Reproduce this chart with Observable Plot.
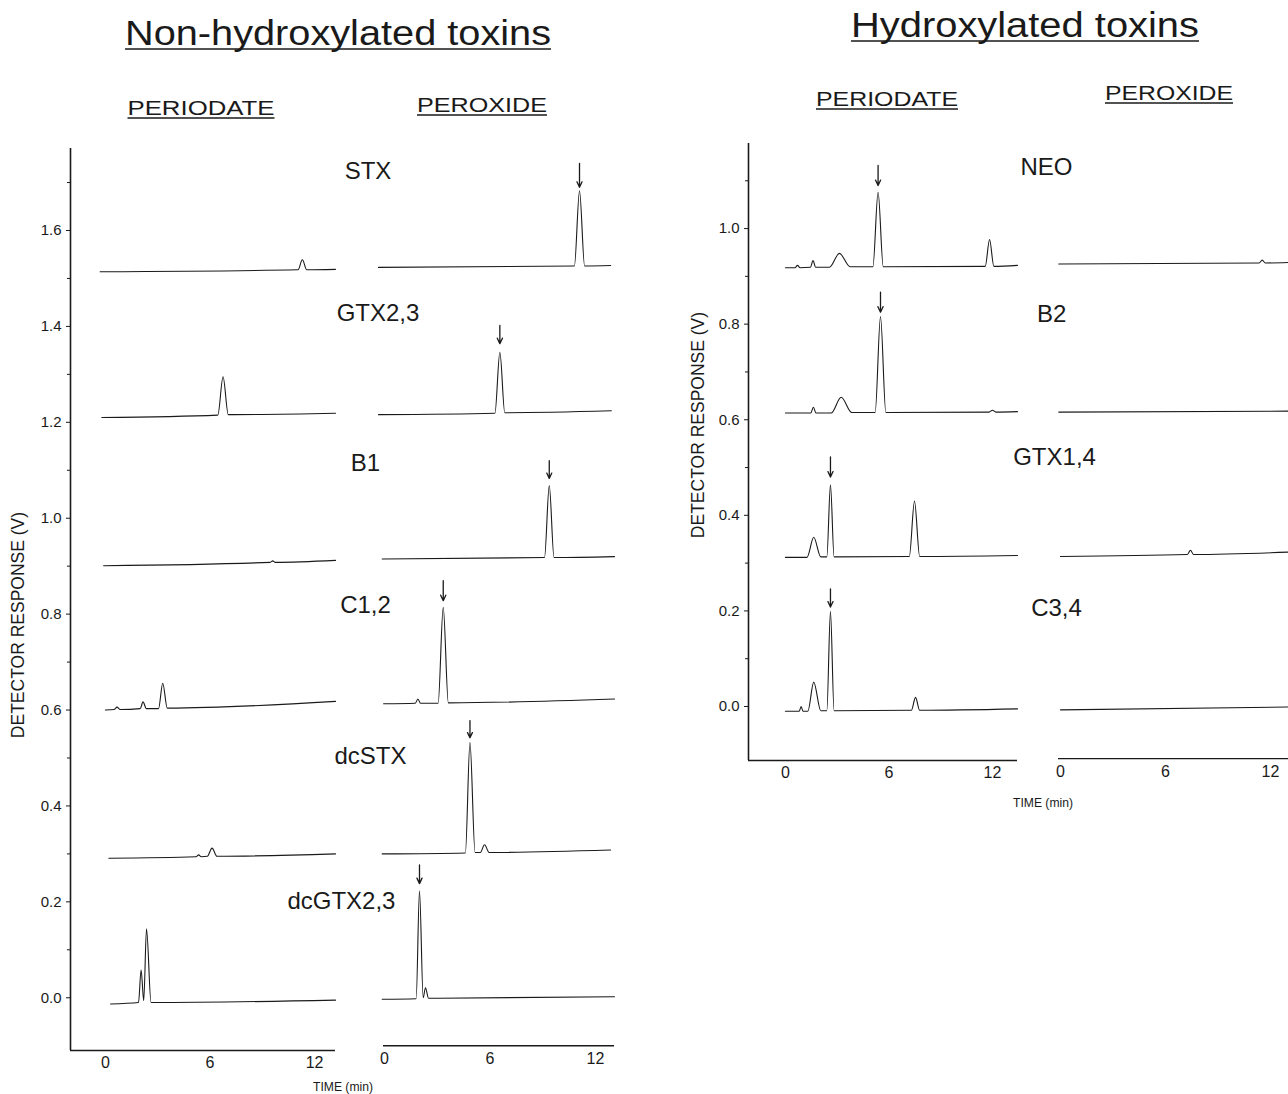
<!DOCTYPE html>
<html>
<head>
<meta charset="utf-8">
<script src="https://cdn.jsdelivr.net/npm/d3@7"></script>
<script src="https://cdn.jsdelivr.net/npm/@observablehq/plot@0.6"></script>
<style>
  html, body { margin: 0; padding: 0; background: #fff; }
  #fig { position: relative; width: 1288px; height: 1094px; overflow: hidden; background: #fff; }
</style>
</head>
<body>
<div id="fig"></div>
<script>
// ---------------- DATA ----------------
// time in min, detector response in V
const xTicks = [0, 6, 12];
const yTicksLeft = [0, 0.2, 0.4, 0.6, 0.8, 1.0, 1.2, 1.4, 1.6];
const yMinorLeft = [0.1, 0.3, 0.5, 0.7, 0.9, 1.1, 1.3, 1.5, 1.7];
const yTicksRight = [0, 0.2, 0.4, 0.6, 0.8, 1.0];
const yMinorRight = [0.1, 0.3, 0.5, 0.7, 0.9, 1.1];

// Non-hydroxylated toxins
const nonHydroxCompounds = ["STX", "GTX2,3", "B1", "C1,2", "dcSTX", "dcGTX2,3"];
const nonHydroxLabelT = [-0.94, -0.37, -1.08, -1.08, -0.80, -2.45];
const nonHydroxLabelV = [1.724, 1.428, 1.114, 0.818, 0.503, 0.202];

const stxPeriodate = [[-0.3,1.514],[11.05,1.518],[11.3,1.539],[11.55,1.518],[13.2,1.519]];
const stxPeroxide = [[-0.34,1.523],[10.8,1.526],[11.09,1.683],[11.38,1.526],[12.86,1.527]];
const gtx23Periodate = [[-0.2,1.210],[6.45,1.215],[6.75,1.295],[7.05,1.216],[13.2,1.219]];
const gtx23Peroxide = [[-0.34,1.216],[6.28,1.219],[6.56,1.346],[6.84,1.220],[12.9,1.224]];
const b1Periodate = [[-0.1,0.901],[9.45,0.908],[9.6,0.911],[9.75,0.908],[13.2,0.912]];
const b1Peroxide = [[-0.13,0.915],[9.1,0.918],[9.37,1.068],[9.64,0.918],[13.08,0.920]];
const c12Periodate = [[0,0.600],[0.5,0.601],[0.67,0.606],[0.85,0.601],[2.0,0.603],[2.16,0.617],[2.35,0.603],[3.05,0.603],[3.29,0.656],[3.55,0.604],[13.2,0.618]];
const c12Peroxide = [[-0.05,0.613],[1.75,0.614],[1.9,0.623],[2.05,0.614],[3.05,0.614],[3.34,0.814],[3.63,0.615],[13.08,0.623]];
const dcstxPeriodate = [[0.2,0.291],[5.2,0.294],[5.35,0.298],[5.5,0.294],[5.85,0.295],[6.12,0.312],[6.4,0.295],[13.2,0.300]];
const dcstxPeroxide = [[-0.13,0.300],[4.6,0.302],[4.86,0.532],[5.15,0.303],[5.45,0.303],[5.69,0.319],[5.95,0.303],[12.86,0.308]];
const dcgtx23Periodate = [[0.3,-0.013],[1.9,-0.010],[2.05,0.058],[2.2,-0.006],[2.36,0.144],[2.62,-0.010],[13.2,-0.005]];
const dcgtx23Peroxide = [[-0.13,-0.003],[1.8,-0.002],[1.99,0.223],[2.2,0.0],[2.33,0.021],[2.5,-0.001],[13.08,0.002]];

// arrows marking the product peak: [time, from, to]
const nonHydroxArrows = [[11.09,1.740,1.690],[6.56,1.402,1.364],[9.37,1.120,1.083],[3.34,0.870,0.828],[4.86,0.578,0.542],[1.99,0.277,0.238]];

// Hydroxylated toxins
const hydroxCompounds = ["NEO", "B2", "GTX1,4", "C3,4"];
const hydroxLabelT = [-0.8, -0.51, -0.34, -0.23];
const hydroxLabelV = [1.129, 0.821, 0.521, 0.206];

const neoPeriodate = [[0,0.918],[0.55,0.918],[0.7,0.923],[0.85,0.918],[1.45,0.919],[1.6,0.933],[1.75,0.919],[2.55,0.919],[3.13,0.948],[3.75,0.920],[5.07,0.920],[5.37,1.076],[5.67,0.920],[11.58,0.921],[11.83,0.977],[12.08,0.921],[13.45,0.923]];
const neoPeroxide = [[-0.1,0.926],[11.35,0.928],[11.53,0.934],[11.7,0.928],[13.03,0.929]];
const b2Periodate = [[0,0.614],[1.47,0.614],[1.62,0.626],[1.77,0.614],[2.65,0.614],[3.23,0.647],[3.85,0.615],[5.2,0.615],[5.51,0.816],[5.82,0.615],[11.8,0.616],[12.0,0.620],[12.2,0.616],[13.45,0.617]];
const b2Peroxide = [[-0.1,0.616],[13.03,0.618]];
const gtx14Periodate = [[0,0.312],[1.25,0.312],[1.64,0.354],[2.05,0.313],[2.4,0.313],[2.61,0.464],[2.82,0.313],[7.18,0.314],[7.48,0.430],[7.78,0.314],[13.45,0.316]];
const gtx14Peroxide = [[0,0.314],[7.25,0.318],[7.43,0.327],[7.6,0.318],[13.03,0.323]];
const c34Periodate = [[0,-0.010],[0.8,-0.010],[0.91,0.0],[1.02,-0.010],[1.3,-0.010],[1.64,0.051],[2.05,-0.009],[2.4,-0.009],[2.61,0.199],[2.82,-0.009],[7.3,-0.008],[7.54,0.019],[7.78,-0.008],[13.45,-0.005]];
const c34Peroxide = [[0,-0.007],[13.03,-0.001]];

const hydroxArrows = [[5.37,1.132,1.090],[5.51,0.867,0.825],[2.61,0.522,0.480],[2.61,0.246,0.208]];

// ---------------- DRAWING ----------------
const H = 1094;
const FONT = '"Liberation Sans", Arial, Helvetica, sans-serif';
const INK = "#1a1a1a";
const fig = document.getElementById("fig");

function traceMarks(traces) {
  return traces.map(tr => Plot.line(tr, {x: d => d[0], y: d => d[1], curve: "monotone-x", stroke: INK, strokeWidth: 1.1}));
}
function arrowMark(arr) {
  return Plot.arrow(arr, {x1: d => d[0], x2: d => d[0], y1: d => d[1], y2: d => d[2], stroke: INK, strokeWidth: 1.3, headLength: 7, headAngle: 50});
}
function labelMark(names, ts, vs) {
  const rows = names.map((n, i) => ({n, t: ts[i], v: vs[i]}));
  return Plot.text(rows, {x: "t", y: "v", text: "n", fontSize: 24, fill: INK, textAnchor: "middle"});
}
function yAxisMarks(ticks, minor) {
  return [
    Plot.axisY({ticks, tickFormat: d3.format(".1f"), tickSize: 4, tickPadding: 5, fontSize: 15, label: null, anchor: "left", stroke: INK, color: INK}),
    Plot.axisY({ticks: minor, tickFormat: () => "", tickSize: 3, label: null, anchor: "left", stroke: INK})
  ];
}
function xAxisMark(pad) {
  return Plot.axisX({ticks: xTicks, tickSize: 0, tickPadding: pad, fontSize: 16, label: null, anchor: "bottom", color: INK});
}
function addPlot(o) {
  const svg = Plot.plot({
    width: o.width, height: H,
    marginLeft: o.marginLeft, marginRight: o.marginRight, marginTop: o.marginTop, marginBottom: o.marginBottom,
    x: {domain: o.xDomain, axis: null},
    y: {domain: o.yDomain, axis: null},
    style: {background: "transparent", fontFamily: FONT, color: INK, overflow: "visible"},
    marks: o.marks
  });
  svg.style.position = "absolute";
  svg.style.left = o.left + "px";
  svg.style.top = "0px";
  fig.appendChild(svg);
}

const yLeft = [-0.11, 1.771];
const yRight = [-0.113, 1.178];

// Left panel, periodate
addPlot({
  left: 0, width: 345, marginLeft: 70, marginRight: 10, marginTop: 148, marginBottom: 44,
  xDomain: [-2, 13.2], yDomain: yLeft,
  marks: [
    Plot.ruleX([-2], {stroke: INK, strokeWidth: 1.6}),
    Plot.ruleY([yLeft[0]], {stroke: INK, strokeWidth: 1.4}),
    ...yAxisMarks(yTicksLeft, yMinorLeft),
    xAxisMark(6),
    ...traceMarks([stxPeriodate, gtx23Periodate, b1Periodate, c12Periodate, dcstxPeriodate, dcgtx23Periodate])
  ]
});
// Left panel, peroxide
addPlot({
  left: 270, width: 354, marginLeft: 113, marginRight: 10, marginTop: 148, marginBottom: 44,
  xDomain: [-0.057, 13.08], yDomain: yLeft,
  marks: [
    Plot.ruleY([-0.10], {stroke: INK, strokeWidth: 1.4}),
    xAxisMark(2),
    ...traceMarks([stxPeroxide, gtx23Peroxide, b1Peroxide, c12Peroxide, dcstxPeroxide, dcgtx23Peroxide]),
    arrowMark(nonHydroxArrows),
    labelMark(nonHydroxCompounds, nonHydroxLabelT, nonHydroxLabelV)
  ]
});
// Right panel, periodate
addPlot({
  left: 680, width: 345, marginLeft: 68, marginRight: 8, marginTop: 143, marginBottom: 334,
  xDomain: [-2.14, 13.45], yDomain: yRight,
  marks: [
    Plot.ruleX([-2.14], {stroke: INK, strokeWidth: 1.6}),
    Plot.ruleY([yRight[0]], {stroke: INK, strokeWidth: 1.4}),
    ...yAxisMarks(yTicksRight, yMinorRight),
    xAxisMark(6),
    ...traceMarks([neoPeriodate, b2Periodate, gtx14Periodate, c34Periodate]),
    arrowMark(hydroxArrows)
  ]
});
// Right panel, peroxide
addPlot({
  left: 960, width: 328, marginLeft: 98, marginRight: 0, marginTop: 143, marginBottom: 334,
  xDomain: [-0.114, 13.03], yDomain: yRight,
  marks: [
    Plot.ruleY([-0.109], {stroke: INK, strokeWidth: 1.4}),
    xAxisMark(5),
    ...traceMarks([neoPeroxide, b2Peroxide, gtx14Peroxide, c34Peroxide]),
    labelMark(hydroxCompounds, hydroxLabelT, hydroxLabelV)
  ]
});

// ---------------- TITLES (overlay) ----------------
const over = d3.select(fig).append("svg")
  .attr("width", 1288).attr("height", H)
  .style("position", "absolute").style("left", "0px").style("top", "0px")
  .style("pointer-events", "none")
  .style("font-family", FONT).style("fill", INK);

function title(txt, cx, baseline, size, len, underlineGap) {
  const t = over.append("text").attr("x", cx).attr("y", baseline)
    .attr("text-anchor", "middle").attr("font-size", size)
    .attr("textLength", len).attr("lengthAdjust", "spacingAndGlyphs").text(txt);
  if (underlineGap != null) {
    const b = t.node().getBBox();
    over.append("line").attr("x1", b.x).attr("x2", b.x + b.width)
      .attr("y1", baseline + underlineGap).attr("y2", baseline + underlineGap)
      .attr("stroke", INK).attr("stroke-width", 1.5);
  }
  return t;
}
title("Non-hydroxylated  toxins", 338, 45, 35, 426, 4);
title("Hydroxylated  toxins", 1025, 37, 35, 348, 4);
title("PERIODATE", 201, 115, 21, 147, 3);
title("PEROXIDE", 482, 112, 21, 130, 3);
title("PERIODATE", 887, 106, 21, 142, 3);
title("PEROXIDE", 1169, 100, 21, 128, 3);
title("TIME (min)", 343, 1091, 13, 60, null);
title("TIME (min)", 1043, 807, 13, 60, null);

function yTitle(cx, cy) {
  over.append("text").attr("transform", `translate(${cx},${cy}) rotate(-90)`)
    .attr("text-anchor", "middle").attr("dy", "0.35em").attr("font-size", 17.5)
    .text("DETECTOR RESPONSE (V)");
}
yTitle(18, 625);
yTitle(698, 425);
</script>
</body>
</html>
